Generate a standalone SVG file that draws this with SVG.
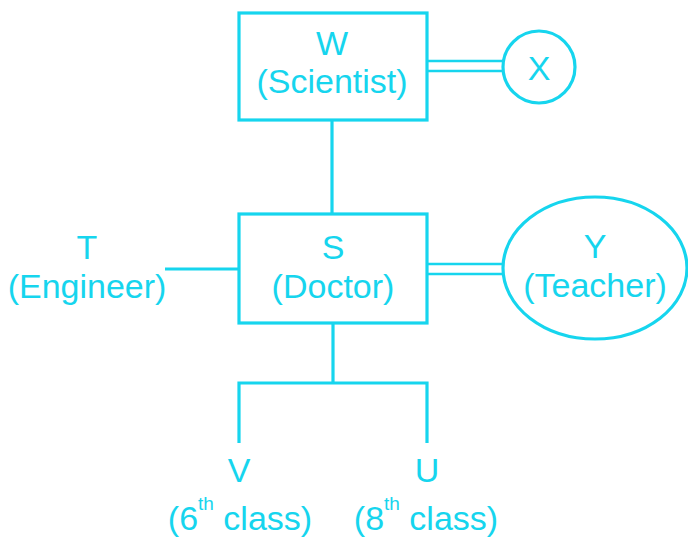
<svg xmlns="http://www.w3.org/2000/svg" width="688" height="539" viewBox="0 0 688 539">
<style>
.shape{fill:none;stroke:#16d5ee;stroke-width:3.2}
.line{fill:none;stroke:#16d5ee;stroke-width:3.2}
.dbl{fill:none;stroke:#16d5ee;stroke-width:2.6}
text{font-family:"Liberation Sans",Arial,sans-serif;font-size:34px;fill:#16d5ee;text-anchor:middle}
.sup{font-size:19px}
</style>
<rect width="688" height="539" fill="#ffffff"/>
<g id="connectors">
<line class="line" x1="332" y1="120" x2="332" y2="214"/>
<line class="dbl" x1="427" y1="61" x2="503" y2="61"/>
<line class="dbl" x1="427" y1="71" x2="503" y2="71"/>
<line class="line" x1="165" y1="269" x2="239" y2="269"/>
<line class="dbl" x1="427" y1="264" x2="503" y2="264"/>
<line class="dbl" x1="427" y1="274" x2="503" y2="274"/>
<line class="line" x1="333" y1="323" x2="333" y2="383"/>
<polyline class="line" points="239,443 239,383 427,383 427,443"/>
</g>
<g id="node-W">
<rect class="shape" x="239" y="13" width="188" height="107"/>
<text x="332" y="55">W</text>
<text x="332" y="93">(Scientist)</text>
</g>
<g id="node-X">
<circle class="shape" cx="539" cy="67" r="36"/>
<text x="539" y="80">X</text>
</g>
<g id="node-T">
<text x="87" y="259">T</text>
<text x="87" y="298">(Engineer)</text>
</g>
<g id="node-S">
<rect class="shape" x="239" y="214" width="188" height="109"/>
<text x="333" y="259">S</text>
<text x="333" y="298">(Doctor)</text>
</g>
<g id="node-Y">
<ellipse class="shape" cx="595" cy="268" rx="92" ry="71"/>
<text x="595" y="258">Y</text>
<text x="595" y="297">(Teacher)</text>
</g>
<g id="node-V">
<text x="239" y="482">V</text>
<text x="240" y="530">(6<tspan class="sup" dy="-20">th</tspan><tspan dy="20"> class)</tspan></text>
</g>
<g id="node-U">
<text x="427" y="482">U</text>
<text x="426" y="530">(8<tspan class="sup" dy="-20">th</tspan><tspan dy="20"> class)</tspan></text>
</g>
</svg>
